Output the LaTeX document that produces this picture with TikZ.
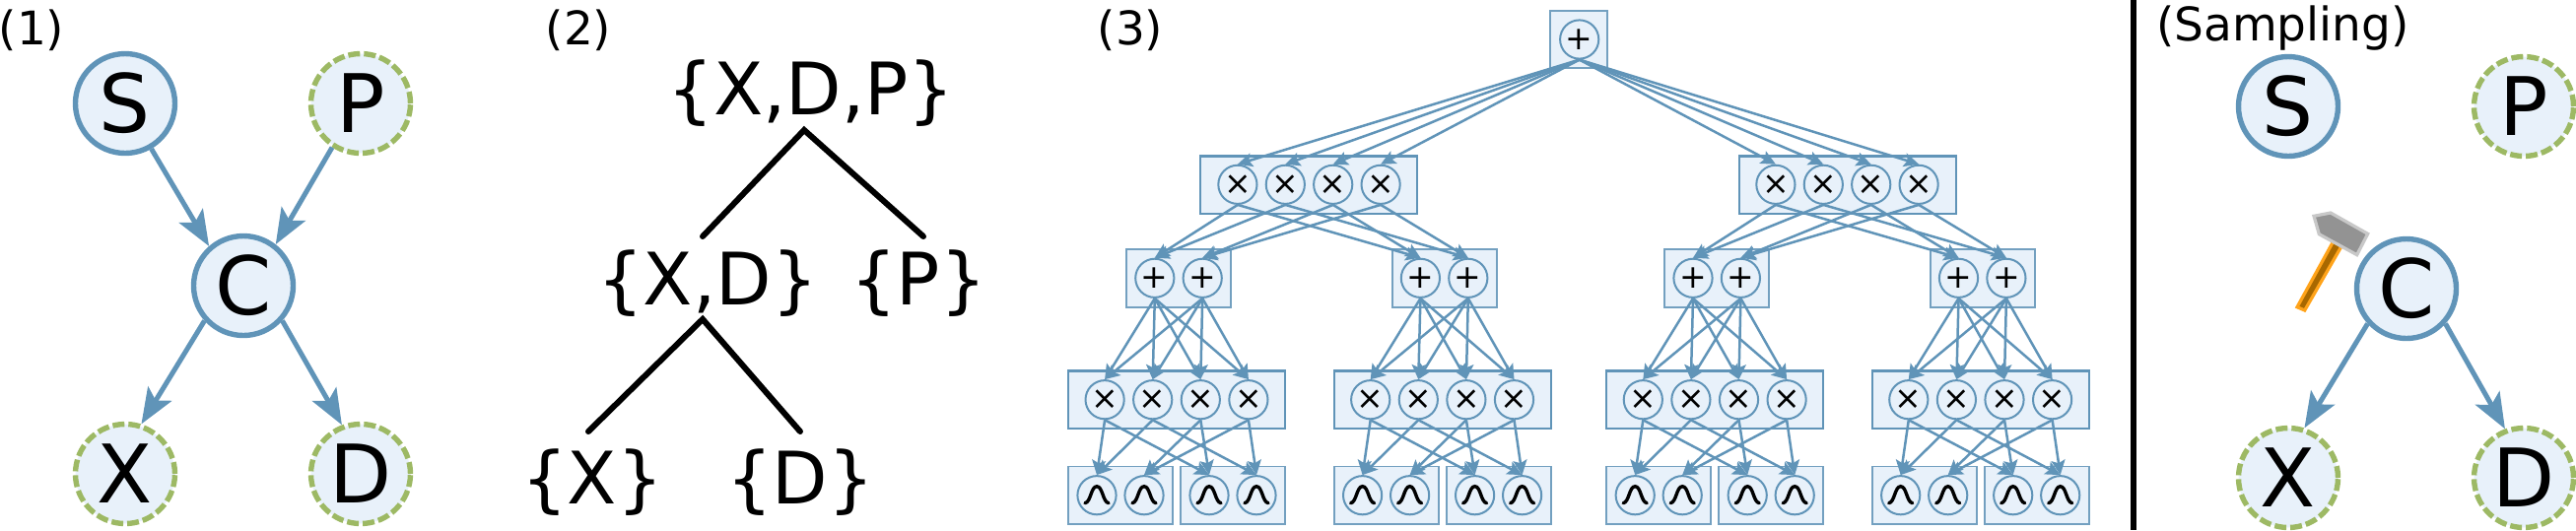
\documentclass[tikz,border=0pt]{standalone}
\usepackage{fontspec}
\usepackage{xcolor}
\setmainfont{DejaVu Sans}
\usetikzlibrary{arrows.meta,positioning}

\definecolor{nodefill}{HTML}{E8F1FA}
\definecolor{nodeblue}{HTML}{6094B8}
\definecolor{boxblue}{HTML}{73A0C0}
\definecolor{dashgreen}{HTML}{9DB964}

\tikzset{
	var/.style={circle, draw=nodeblue, fill=nodefill, line width=2.7pt, minimum size=50.5pt, inner sep=0pt, font=\fontsize{41}{41}\selectfont},
	obs/.style={var, draw=dashgreen, dash pattern=on 6pt off 2pt},
	bigarrow/.style={draw=nodeblue, line width=2.5pt, -{Stealth[length=18pt,width=14pt,inset=4pt]}},
	panel/.style={anchor=base, font=\fontsize{23.5}{23.5}\selectfont},
	scopeset/.style={anchor=base, font=\fontsize{36.7}{36.7}\selectfont},
	treeline/.style={line width=3pt, line cap=round, line join=miter},
	spnbox/.style={rectangle, draw=boxblue, fill=nodefill, line width=0.9pt, minimum height=29.3pt, inner sep=0pt},
	rootbox/.style={spnbox, minimum width=29pt},
	sumbox/.style={spnbox, minimum width=53pt},
	prodbox/.style={spnbox, minimum width=110pt, draw=nodeblue, line width=1.1pt},
	spn/.style={circle, draw=nodeblue, fill=nodefill, line width=1pt, minimum size=19.6pt, inner sep=0pt, font=\fontsize{16.5}{16.5}\selectfont},
	spnarrow/.style={draw=nodeblue, line width=1.25pt, -{Stealth[length=7.5pt,width=7pt,inset=1.5pt]}},
	bell/.pic={\draw[line width=1.7pt, line cap=round] (-12,8) .. controls (-6,7) and (-6,-9) .. (0,-9) .. controls (6,-9) and (6,7) .. (12,8);}
}

\begin{document}
\begin{tikzpicture}[x=0.5pt, y=-0.5pt]
	\useasboundingbox (0,0) rectangle (2614,538);

	% (1)
	\node[panel] (lab1) at (32,45) {(1)};
	\node[var] (varS) at (127,105) {S};
	\node[obs] (varP) at (366,105) {P};
	\node[var] (varC) at (247,290) {C};
	\node[obs] (varX) at (127,481) {X};
	\node[obs] (varD) at (366,481) {D};
	\draw[bigarrow] (varS.300) -- (varC.131);
	\draw[bigarrow] (varP.237) -- (varC.52);
	\draw[bigarrow] (varC.222) -- (varX.72);
	\draw[bigarrow] (varC.318) -- (varD.111);

	% (2)
	\node[panel] (lab2) at (587,45) {(2)};
	\node[scopeset] (xdp) at (823,116) {\{X,D,P\}};
	\node[scopeset] (xd) at (718,309) {\{X,D\}};
	\node[scopeset] (p) at (932,309) {\{P\}};
	\node[scopeset] (x) at (601,511) {\{X\}};
	\node[scopeset] (d) at (812,511) {\{D\}};
	\coordinate (xdpfork) at (816,132);
	\coordinate (xdtop) at (713,240);
	\coordinate (ptop) at (937,240);
	\coordinate (xdfork) at (713,324);
	\coordinate (xtop) at (597,438);
	\coordinate (dtop) at (812,438);
	\draw[treeline] (xdtop) -- (xdpfork) -- (ptop);
	\draw[treeline] (xtop) -- (xdfork) -- (dtop);

	% (3)
	\node[panel] (lab3) at (1147,45) {(3)};
	\node[rootbox] (rootb) at (1601.7,40) {};
	\node[prodbox] (tb) at (1328.3,187.8) {};
	\node[prodbox] (ub) at (1874.7,187.8) {};
	\foreach \cx [count=\g] in {1194,1463.6,1740.2,2009.7} {
		\node[sumbox] (sb\g) at ({\cx+2},282.5) {};
		\node[prodbox] (pb\g) at (\cx,405.7) {};
		\node[sumbox] (lb\g1) at ({\cx-57},502.8) {};
		\node[sumbox] (lb\g2) at ({\cx+57},502.8) {};
	}
	\node[spn] (root) at (1602.7,40) {+};
	\foreach \dx [count=\i] in {-72.6,-24.2,24.2,72.6} {
		\node[spn] (t\i) at ({1328.5+\dx},187.3) {×};
		\node[spn] (u\i) at ({1874.5+\dx},187.3) {×};
		\draw[spnarrow] (root.south) -- (t\i.north);
		\draw[spnarrow] (root.south) -- (u\i.north);
	}
	\foreach \cx [count=\g] in {1194,1463.6,1740.2,2009.7} {
		\foreach \dx [count=\i] in {-24.2,24.2}
			\node[spn] (s\g\i) at ({\cx+2+\dx},282.3) {+};
		\foreach \dx [count=\i] in {-72.9,-24.3,24.3,72.9}
			\node[spn] (p\g\i) at ({\cx+\dx},405.7) {×};
		\foreach \dx [count=\i] in {-81,-33,33,81} {
			\node[spn] (l\g\i) at ({\cx+\dx},502.7) {};
			\pic at (l\g\i) {bell};
		}
		\foreach \a in {1,2}
			\foreach \b in {1,2,3,4}
				\draw[spnarrow] (s\g\a.south) -- (p\g\b.north);
		\foreach \a/\b in {1/1,1/3,2/1,2/4,3/2,3/3,4/2,4/4}
			\draw[spnarrow] (p\g\a.south) -- (l\g\b.north);
	}
	\foreach \a/\b in {1/1,2/1,3/2,4/2} {
		\draw[spnarrow] (t\a.south) -- (s1\b.north);
		\draw[spnarrow] (u\a.south) -- (s3\b.north);
	}
	\foreach \a/\b in {1/1,2/2,3/1,4/2} {
		\draw[spnarrow] (t\a.south) -- (s2\b.north);
		\draw[spnarrow] (u\a.south) -- (s4\b.north);
	}

	% divider
	\draw[line width=3pt] (2164.5,0) -- (2164.5,538);

	% (Sampling)
	\node[panel] (lab4) at (2316.5,41) {(Sampling)};
	\node[var] (smpS) at (2322,108) {S};
	\node[obs] (smpP) at (2561,108) {P};
	\node[var] (smpC) at (2442,293) {C};
	\node[obs] (smpX) at (2322,485) {X};
	\node[obs] (smpD) at (2561,485) {D};
	\draw[bigarrow] (smpC.222) -- (smpX.72);
	\draw[bigarrow] (smpC.318) -- (smpD.111);
	% hammer
	\draw[fill={rgb,255:red,168;green,104;blue,0}, draw={rgb,255:red,255;green,163;blue,26}, line width=1.6pt] (2367.7,245) -- (2376,250) -- (2338.7,315) -- (2331,311.7) -- cycle;
	\draw[fill={rgb,255:red,147;green,147;blue,147}, draw={rgb,255:red,200;green,200;blue,200}, line width=1.6pt] (2348,219.3) -- (2365,216) -- (2402.7,237.3) -- (2391.7,258.7) -- (2353.3,237.7) -- cycle;
\end{tikzpicture}
\end{document}
